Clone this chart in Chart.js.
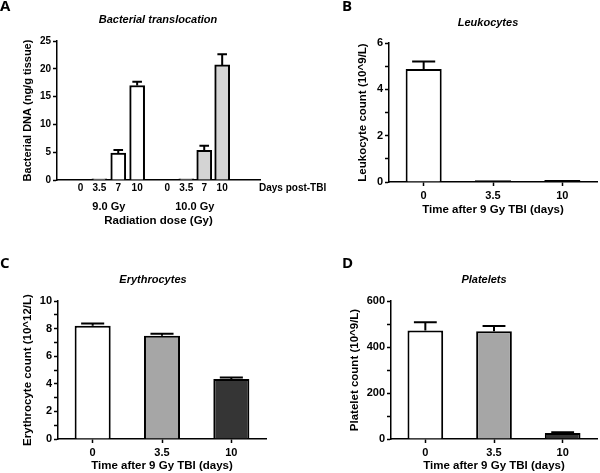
<!DOCTYPE html>
<html>
<head>
<meta charset="utf-8">
<script src="https://cdn.jsdelivr.net/npm/chart.js@4.4.1/dist/chart.umd.min.js"></script>
<style>
  body { margin: 0; background: #fff; }
  #wrap { position: relative; width: 600px; height: 473px; overflow: hidden; }
  canvas { position: absolute; }
</style>
</head>
<body>
<div id="wrap">
  <canvas id="chartB" width="300" height="236" style="left:300px;top:0"></canvas>
  <canvas id="chartA" width="335" height="236" style="left:0;top:0"></canvas>
  <canvas id="chartC" width="300" height="237" style="left:0;top:236px"></canvas>
  <canvas id="chartD" width="300" height="237" style="left:300px;top:236px"></canvas>
</div>
<script>
// panel A - bacterial DNA, two dose groups
var aDays = ['0', '3.5', '7', '10', '0', '3.5', '7', '10'];
var aPos = [0, 1, 2, 3, 4.6, 5.6, 6.55, 7.5];
var aDNA = [0, 0.2, 4.85, 17.0, 0, 0.2, 5.35, 20.7];
var aSEM = [0, 0, 0.55, 0.65, 0, 0, 0.8, 1.9];
var aDose = ['9.0 Gy', '10.0 Gy'];

// panels B-D - blood counts after 9 Gy
var days = ['0', '3.5', '10'];
var leukocytes = [4.88, 0.08, 0.09];
var leukocytesSEM = [0.32, 0, 0];
var erythrocytes = [8.2, 7.48, 4.35];
var erythrocytesSEM = [0.17, 0.14, 0.1];
var platelets = [472, 469, 26];
var plateletsSEM = [36, 22, 3];

var FONT = '"Liberation Sans", Arial, sans-serif';
Chart.defaults.font.family = FONT;
Chart.defaults.color = '#000';
Chart.defaults.animation = false;
Chart.defaults.plugins.legend.display = false;
Chart.defaults.plugins.tooltip.enabled = false;

var WHITE = '#ffffff', LIGHT = '#d4d4d4', MID = '#a6a6a6', DARK = '#353535';

var tickFontA = {size: 10, weight: 'bold'};
var tickFont = {size: 11, weight: 'bold'};
var titleFontA = {size: 11, weight: 'bold'};
var titleFont = {size: 11.5, weight: 'bold'};

//very flat bars get a full border so they show as a black line
function skipFor(max) {
  return function(c) {
    return c.parsed && c.parsed.y < max * 0.02 ? false : 'start';
  };
}

//draws the upward error bars with a cap
function errorBars(values, errs) {
  return {
    id: 'errorBars',
    afterDatasetsDraw: function(chart) {
      var ctx = chart.ctx;
      var ys = chart.scales.y;
      var meta = chart.getDatasetMeta(0);
      meta.data.forEach(function(bar, i) {
        if (!errs[i]) return;
        var top = ys.getPixelForValue(values[i] + errs[i]);
        var half = bar.width * 0.32;
        ctx.save();
        ctx.strokeStyle = '#000';
        ctx.lineWidth = 2;
        ctx.beginPath();
        ctx.moveTo(bar.x, bar.y);
        ctx.lineTo(bar.x, top);
        ctx.moveTo(bar.x - half, top);
        ctx.lineTo(bar.x + half, top);
        ctx.stroke();
        ctx.restore();
      });
    }
  };
}

//extra texts: panel letter, italic title and so on
function texts(items) {
  return {
    id: 'texts',
    afterDraw: function(chart) {
      var ctx = chart.ctx;
      items.forEach(function(it) {
        if (typeof it === 'function') it = it(chart);
        ctx.save();
        ctx.font = it.font;
        ctx.fillStyle = '#000';
        ctx.textAlign = it.align || 'center';
        ctx.textBaseline = 'middle';
        ctx.fillText(it.text, it.x, it.y);
        ctx.restore();
      });
    }
  };
}

function letterFont() { return 'bold 15px "Open Sans", ' + FONT; }
function italicFont() { return 'italic bold 11px ' + FONT; }

function yAxis(max, step, labelEvery, title, width, titleX) {
  return {
    min: 0, max: max,
    ticks: {
      stepSize: step, autoSkip: false, padding: 2, font: tickFont,
      callback: function(v) { return v % labelEvery === 0 ? v : ''; }
    },
    grid: {drawOnChartArea: false, drawTicks: true, tickLength: 4, color: '#000', tickWidth: 1.5},
    border: {color: '#000', width: 1.5},
    title: {display: true, text: title, font: titleFont, padding: {top: titleX - 6.9, bottom: 0}},
    afterFit: function(s) { s.width = width; }
  };
}

function countPanel(id, values, sem, colors, yMax, yStep, labelEvery, yTitle, yWidth, yTitleX,
                    pad, xHeight, xTitleBottom, extra) {
  return new Chart(document.getElementById(id).getContext('2d'), {
    type: 'bar',
    data: {
      labels: days,
      datasets: [{
        data: values,
        backgroundColor: colors,
        borderColor: '#000',
        borderWidth: 2,
        borderSkipped: skipFor(yMax),
        categoryPercentage: 1,
        barPercentage: 0.52
      }]
    },
    options: {
      responsive: false,
      layout: {padding: pad},
      scales: {
        x: {
          type: 'category',
          offset: true,
          grid: {drawOnChartArea: false, drawTicks: true, offset: false, tickLength: 4, color: '#000', tickWidth: 1.5},
          border: {color: '#000', width: 1.5},
          ticks: {padding: 3, font: tickFont, maxRotation: 0},
          title: {display: true, text: 'Time after 9 Gy TBI (days)', font: titleFont,
                  padding: {top: 0, bottom: xTitleBottom}},
          afterFit: function(s) { s.height = xHeight; }
        },
        y: yAxis(yMax, yStep, labelEvery, yTitle, yWidth, yTitleX)
      }
    },
    plugins: [errorBars(values, sem), texts(extra)]
  });
}

// ---- panel A ----
var aColors = aPos.map(function(p, i) { return i < 4 ? WHITE : LIGHT; });
var chartA = new Chart(document.getElementById('chartA').getContext('2d'), {
  type: 'bar',
  data: {
    datasets: [{
      data: aPos.map(function(p, i) { return {x: p, y: aDNA[i]}; }),
      backgroundColor: aColors,
      borderColor: '#000',
      borderWidth: 2,
      borderSkipped: skipFor(25),
      barThickness: 15
    }]
  },
  options: {
    responsive: false,
    layout: {padding: {left: 0, right: 75, top: 41, bottom: 0}},
    scales: {
      x: {
        type: 'linear',
        min: -0.57, max: 8.83,
        afterBuildTicks: function(s) { s.ticks = aPos.map(function(p) { return {value: p}; }); },
        ticks: {
          autoSkip: false, maxRotation: 0, padding: 2.3, font: tickFontA,
          callback: function(v, i) { return aDays[i]; }
        },
        grid: {display: false, drawTicks: false},
        border: {color: '#000', width: 1.5},
        title: {display: true, text: 'Radiation dose (Gy)', font: titleFont, padding: {top: 0, bottom: 8.1}},
        afterFit: function(s) { s.height = 56; }
      },
      y: {
        min: 0, max: 25,
        ticks: {stepSize: 5, padding: 2, font: tickFontA},
        grid: {drawOnChartArea: false, drawTicks: true, tickLength: 4, color: '#000', tickWidth: 1.5},
        border: {color: '#000', width: 1.5},
        title: {display: true, text: 'Bacterial DNA (ng/g tissue)', font: titleFontA, padding: {top: 21.4, bottom: 0}},
        afterFit: function(s) { s.width = 57; }
      }
    }
  },
  plugins: [errorBars(aDNA, aSEM), texts([
    {text: 'A', x: 0, y: 7, align: 'left', font: letterFont()},
    {text: 'Bacterial translocation', x: 158, y: 20, font: italicFont()},
    {text: 'Days post-TBI', x: 259, y: 188.5, align: 'left', font: 'bold 10px ' + FONT},
    function(c) {
      return {text: aDose[0], x: c.scales.x.getPixelForValue((aPos[0] + aPos[3]) / 2), y: 207, font: 'bold 11px ' + FONT};
    },
    function(c) {
      return {text: aDose[1], x: c.scales.x.getPixelForValue((aPos[4] + aPos[7]) / 2), y: 207, font: 'bold 11px ' + FONT};
    }
  ])]
});

// ---- panel B ----
countPanel('chartB', leukocytes, leukocytesSEM, [WHITE, MID, DARK], 6, 1, 2,
  'Leukocyte count (10^9/L)', 89, 63, {left: 0, right: 3, top: 43, bottom: 0}, 54, 19.1, [
    {text: 'B', x: 42, y: 7, align: 'left', font: letterFont()},
    {text: 'Leukocytes', x: 188, y: 23, font: italicFont()}
  ]);

// ---- panel C ----
countPanel('chartC', erythrocytes, erythrocytesSEM, [WHITE, MID, DARK], 10, 1, 2,
  'Erythrocyte count (10^12/L)', 58, 28, {left: 0, right: 34, top: 65, bottom: 0}, 34, 0.2, [
    {text: 'C', x: 0, y: 28, align: 'left', font: letterFont()},
    {text: 'Erythrocytes', x: 153, y: 44, font: italicFont()}
  ]);

// ---- panel D ----
countPanel('chartD', platelets, plateletsSEM, [WHITE, MID, DARK], 600, 100, 200,
  'Platelet count (10^9/L)', 91, 55, {left: 0, right: 3, top: 65, bottom: 0}, 34, 0.2, [
    {text: 'D', x: 42, y: 28, align: 'left', font: letterFont()},
    {text: 'Platelets', x: 184, y: 44, font: italicFont()}
  ]);
</script>
</body>
</html>
